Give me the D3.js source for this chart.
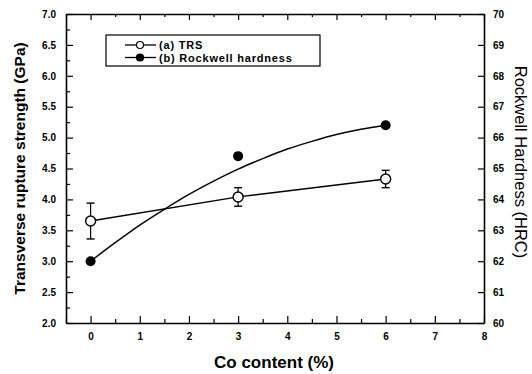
<!DOCTYPE html>
<html>
<head>
<meta charset="utf-8">
<script src="https://cdn.jsdelivr.net/npm/d3@7"></script>
<style>
  body { margin: 0; background: #fff; }
  text { font-family: "Liberation Sans", Arial, sans-serif; fill: #000; }
</style>
</head>
<body>
<div id="main"></div>
<script>
// data
const coContent = [0, 3, 6];
const trs = [3.65, 4.04, 4.33];
const trsErr = [0.29, 0.15, 0.14];
const hardness = [62.0, 65.4, 66.4];
// fitted hardness curve (HRC) as drawn
const fitX = [0, 0.5, 1, 1.5, 2, 2.5, 3, 3.5, 4, 4.5, 5, 5.5, 6];
const fitHRC = [62.0, 62.6, 63.17, 63.68, 64.16, 64.59, 64.98, 65.32, 65.63, 65.88, 66.1, 66.27, 66.4];
const xTicks = [0, 1, 2, 3, 4, 5, 6, 7, 8];
const leftTicks = [2.0, 2.5, 3.0, 3.5, 4.0, 4.5, 5.0, 5.5, 6.0, 6.5, 7.0];
const rightTicks = [60, 61, 62, 63, 64, 65, 66, 67, 68, 69, 70];
const legendLabels = ["(a) TRS", "(b) Rockwell hardness"];

const ctx = {
    width: 532,
    height: 374,
    margin: {top: 14, right: 48, bottom: 51, left: 66}
};
const plotW = ctx.width - ctx.margin.left - ctx.margin.right;
const plotH = ctx.height - ctx.margin.top - ctx.margin.bottom;

const svg = d3.select("#main").append("svg")
    .attr("width", ctx.width)
    .attr("height", ctx.height);

const g = svg.append("g")
    .attr("transform", `translate(${ctx.margin.left},${ctx.margin.top})`);

const x = d3.scaleLinear().domain([-0.5, 8]).range([0, plotW]);
const y = d3.scaleLinear().domain([2, 7]).range([plotH, 0]);
const y2 = d3.scaleLinear().domain([60, 70]).range([plotH, 0]);

// minor ticks
const xMinor = d3.range(-0.5, 8.01, 0.5).filter(v => !xTicks.includes(v));
const yMinor = d3.range(2.25, 7, 0.5);

// bottom axis
g.append("g")
    .attr("transform", `translate(0,${plotH})`)
    .call(d3.axisBottom(x).tickValues(xTicks).tickFormat(d3.format("d"))
        .tickSizeInner(-7).tickSizeOuter(0).tickPadding(10))
    .call(a => a.selectAll("text").style("font-size", "10px").style("font-weight", "bold"));
g.append("g")
    .attr("transform", `translate(0,${plotH})`)
    .call(d3.axisBottom(x).tickValues(xMinor).tickFormat("").tickSizeInner(-4).tickSizeOuter(0))
    .call(a => a.select(".domain").remove());

// top axis
g.append("g")
    .call(d3.axisTop(x).tickValues(xTicks).tickFormat("").tickSizeInner(-6).tickSizeOuter(0));
g.append("g")
    .call(d3.axisTop(x).tickValues(xMinor).tickFormat("").tickSizeInner(-3).tickSizeOuter(0))
    .call(a => a.select(".domain").remove());

// left axis
g.append("g")
    .call(d3.axisLeft(y).tickValues(leftTicks).tickFormat(d3.format(".1f"))
        .tickSizeInner(-7).tickSizeOuter(0).tickPadding(10))
    .call(a => a.selectAll("text").style("font-size", "10px").style("font-weight", "bold"));
g.append("g")
    .call(d3.axisLeft(y).tickValues(yMinor).tickFormat("").tickSizeInner(-4).tickSizeOuter(0))
    .call(a => a.select(".domain").remove());

// right axis
g.append("g")
    .attr("transform", `translate(${plotW},0)`)
    .call(d3.axisRight(y2).tickValues(rightTicks).tickFormat(d3.format("d"))
        .tickSizeInner(-6).tickSizeOuter(0).tickPadding(9))
    .call(a => a.selectAll("text").style("font-size", "10px").style("font-weight", "bold"));

g.selectAll(".domain").attr("stroke-width", 1.6);
g.selectAll(".tick line").attr("stroke-width", 1.2);

// axis titles
svg.append("text")
    .attr("transform", `translate(25,${ctx.margin.top + plotH / 2}) rotate(-90)`)
    .attr("text-anchor", "middle")
    .style("font-size", "15.5px")
    .style("font-weight", "bold")
    .text("Transverse rupture strength (GPa)");

svg.append("text")
    .attr("transform", `translate(515,${ctx.margin.top + 148}) rotate(90)`)
    .attr("text-anchor", "middle")
    .style("font-size", "16.5px")
    .text("Rockwell Hardness (HRC)");

svg.append("text")
    .attr("x", 274)
    .attr("y", 368)
    .attr("text-anchor", "middle")
    .style("font-size", "17px")
    .style("font-weight", "bold")
    .text("Co content (%)");

// TRS line
const trsData = coContent.map((c, i) => ({x: c, v: trs[i], e: trsErr[i]}));
g.append("path")
    .datum(trsData)
    .attr("fill", "none")
    .attr("stroke", "#000")
    .attr("stroke-width", 1.4)
    .attr("d", d3.line().x(d => x(d.x)).y(d => y(d.v)));

// hardness fit curve
const fitData = fitX.map((c, i) => ({x: c, v: fitHRC[i]}));
g.append("path")
    .datum(fitData)
    .attr("fill", "none")
    .attr("stroke", "#000")
    .attr("stroke-width", 1.4)
    .attr("d", d3.line().curve(d3.curveMonotoneX).x(d => x(d.x)).y(d => y2(d.v)));

// error bars
const eb = g.selectAll(".err").data(trsData).enter().append("g").attr("class", "err");
eb.append("line")
    .attr("x1", d => x(d.x)).attr("x2", d => x(d.x))
    .attr("y1", d => y(d.v - d.e)).attr("y2", d => y(d.v + d.e))
    .attr("stroke", "#000").attr("stroke-width", 1.2);
[-1, 1].forEach(s => {
    eb.append("line")
        .attr("x1", d => x(d.x) - 4).attr("x2", d => x(d.x) + 4)
        .attr("y1", d => y(d.v + s * d.e)).attr("y2", d => y(d.v + s * d.e))
        .attr("stroke", "#000").attr("stroke-width", 1.4);
});

// markers
g.selectAll(".trs").data(trsData).enter().append("circle")
    .attr("cx", d => x(d.x)).attr("cy", d => y(d.v)).attr("r", 5)
    .attr("fill", "#fff").attr("stroke", "#000").attr("stroke-width", 1.4);

g.selectAll(".hrc").data(coContent).enter().append("circle")
    .attr("cx", d => x(d)).attr("cy", (d, i) => y2(hardness[i])).attr("r", 5)
    .attr("fill", "#000");

// legend
const leg = svg.append("g").attr("transform", "translate(106,35)");
leg.append("rect")
    .attr("width", 214).attr("height", 31)
    .attr("fill", "#fff").attr("stroke", "#000").attr("stroke-width", 1.2);
legendLabels.forEach((lab, i) => {
    const ly = 10 + i * 12.5;
    leg.append("line").attr("x1", 19).attr("x2", 50).attr("y1", ly).attr("y2", ly)
        .attr("stroke", "#000").attr("stroke-width", 1.3);
    leg.append("circle").attr("cx", 34).attr("cy", ly).attr("r", 3.5)
        .attr("fill", i === 0 ? "#fff" : "#000").attr("stroke", "#000").attr("stroke-width", 1.2);
    leg.append("text").attr("x", 53).attr("y", ly + 4)
        .style("font-size", "11px").style("font-weight", "bold")
        .style("letter-spacing", "0.8px")
        .text(lab);
});
</script>
</body>
</html>
